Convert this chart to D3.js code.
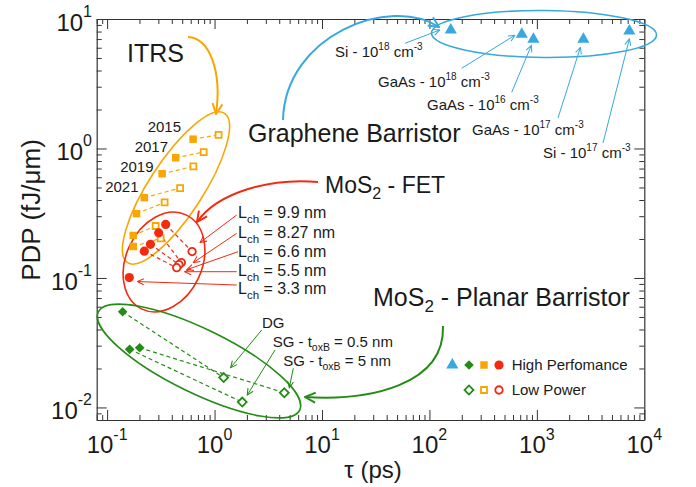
<!DOCTYPE html>
<html><head><meta charset="utf-8">
<script src="https://cdn.jsdelivr.net/npm/d3@7"></script>
<style>body{margin:0;background:#fff}svg{display:block}text{font-family:"Liberation Sans",Arial,sans-serif;fill:#1a1a1a}</style>
</head><body><svg id="c" width="696" height="487"></svg>
<script>
// ---------- data ----------
const xDomain = [0.08, 1e4];
const yDomain = [0.008, 10];
const xMajor = [0.1, 1, 10, 100, 1000, 10000];
const xMajorExp = ["-1", "0", "1", "2", "3", "4"];
const yMajor = [0.01, 0.1, 1, 10];
const yMajorExp = ["-2", "-1", "0", "1"];

// ITRS (orange squares): high performance vs low power
const itrsYears = ["2015", "2017", "2019", "2021"];
const itrsHP = [[0.631,1.18],[0.435,0.848],[0.325,0.638],[0.222,0.417],[0.188,0.314],[0.175,0.213],[0.175,0.175]];
const itrsLP = [[1.09,1.275],[0.792,0.938],[0.635,0.727],[0.478,0.495],[0.343,0.383],[0.283,0.252],[0.315,0.202]];

// MoS2 FET (red circles)
const fetLch = ["9.9", "8.27", "6.6", "5.5", "3.3"];
const fetHP = [[0.351,0.259],[0.302,0.223],[0.253,0.182],[0.222,0.161],[0.161,0.1007]];
const fetLP = [[0.618,0.160],[0.491,0.1315],[0.466,0.1268],[0.444,0.120]];

// MoS2 planar barristor (green diamonds)
const pbNames = ["DG", "SG 0.5", "SG 5"];
const pbHP = [[0.1395,0.0548],[0.162,0.0281],[0.201,0.0289]];
const pbLP = [[1.215,0.0170],[1.81,0.0110],[4.46,0.0130]];

// Graphene barristor (blue triangles)
const gbNames = [["Si","18"],["GaAs","18"],["GaAs","16"],["GaAs","17"],["Si","17"]];
const gbX = [158, 724, 929, 2710, 7260];
const gbY = [8.23, 7.62, 6.97, 6.97, 8.08];

// ---------- colours ----------
const cOrange = "#f9a602", cRed = "#f32a10", cGreen = "#228c14", cBlue = "#37a9df";

const svg = d3.select("#c");
const L = 96.7, R = 644.3, T = 19, B = 420;
const x = d3.scaleLog().domain(xDomain).range([L, R]);
const y = d3.scaleLog().domain(yDomain).range([B, T]);

// arrow markers
const defs = svg.append("defs");
function marker(id, color, size, sw) {
  defs.append("marker").attr("id", id).attr("viewBox", "0 0 10 10")
    .attr("refX", 9).attr("refY", 5).attr("markerWidth", size).attr("markerHeight", size)
    .attr("markerUnits", "userSpaceOnUse").attr("orient", "auto")
    .append("path").attr("d", "M1,1.2 L9,5 L1,8.8").attr("fill", "none")
    .attr("stroke", color).attr("stroke-width", sw).attr("stroke-linejoin", "miter");
}
[["o",cOrange],["r",cRed],["g",cGreen],["b",cBlue]].forEach(([k,c]) => {
  marker("s"+k, c, 8, 1.3);
  marker("b"+k, c, 13, 1.5);
});

// ---------- axes ----------
function minors(lo, hi) {
  const out = [];
  for (let e = -3; e <= 4; e++) for (let k = 2; k <= 9; k++) {
    const v = k * Math.pow(10, e);
    if (v >= lo * 0.999 && v <= hi * 1.001) out.push(v);
  }
  return out;
}
const xMinor = minors(xDomain[0], xDomain[1]);
const yMinor = minors(yDomain[0], yDomain[1]);

function styleAxis(g, showDomain) {
  g.selectAll("line").attr("stroke", "#333").attr("stroke-width", 1);
  g.select(".domain").attr("stroke", showDomain ? "#333" : "none").attr("stroke-width", 1.2);
  g.selectAll("text").remove();
}
const axes = [
  [d3.axisBottom(x), `translate(0,${B})`, xMajor, xMinor],
  [d3.axisTop(x), `translate(0,${T})`, xMajor, xMinor],
  [d3.axisLeft(y), `translate(${L},0)`, yMajor, yMinor],
  [d3.axisRight(y), `translate(${R},0)`, yMajor, yMinor]
];
axes.forEach(([ax, tr, maj, min]) => {
  svg.append("g").attr("transform", tr)
    .call(ax.tickValues(min).tickSize(-5).tickSizeOuter(0).tickFormat(""))
    .call(g => styleAxis(g, false));
  svg.append("g").attr("transform", tr)
    .call(ax.tickValues(maj).tickSize(-10).tickSizeOuter(0).tickFormat(""))
    .call(g => styleAxis(g, true));
});

// tick labels with superscripts
xMajor.forEach((v, i) => {
  const t = svg.append("text").attr("x", x(v)).attr("y", B + 33)
    .attr("text-anchor", "middle").style("font-size", "24px");
  t.append("tspan").text("10");
  t.append("tspan").attr("dy", -13).style("font-size", "16px").text(xMajorExp[i]);
});
yMajor.forEach((v, i) => {
  const t = svg.append("text").attr("x", 92).attr("y", y(v) + 12)
    .attr("text-anchor", "end").style("font-size", "24px");
  t.append("tspan").text("10");
  t.append("tspan").attr("dy", -14).style("font-size", "16px").text(yMajorExp[i]);
});

// axis titles
svg.append("text").attr("x", 373).attr("y", 478).attr("text-anchor", "middle")
  .style("font-size", "24px").text("τ (ps)");
svg.append("text").attr("transform", "translate(40,210) rotate(-90)").attr("text-anchor", "middle")
  .style("font-size", "26px").text("PDP (fJ/μm)");

// ---------- ellipses ----------
function ell(cx, cy, rx, ry, ang, col) {
  svg.append("ellipse").attr("cx", 0).attr("cy", 0).attr("rx", rx).attr("ry", ry)
    .attr("transform", `translate(${cx},${cy}) rotate(${ang})`)
    .attr("fill", "none").attr("stroke", col).attr("stroke-width", 1.6);
}
ell(176, 188, 89, 27, -57, cOrange);
ell(164, 262, 52, 38, -65, cRed);
ell(199, 361, 112, 32, 26, cGreen);
ell(544, 34, 112.5, 23.5, 0.5, cBlue);

// ---------- dashed connectors ----------
function dashes(hp, lp, col) {
  svg.append("g").selectAll("line").data(d3.zip(hp, lp)).join("line")
    .attr("x1", d => x(d[0][0])).attr("y1", d => y(d[0][1]))
    .attr("x2", d => x(d[1][0])).attr("y2", d => y(d[1][1]))
    .attr("stroke", col).attr("stroke-width", 1.2).attr("stroke-dasharray", "4,3");
}
dashes(itrsHP, itrsLP, cOrange);
dashes(fetHP.slice(0, fetLP.length), fetLP, cRed);
dashes(pbHP, pbLP, cGreen);

// ---------- markers ----------
const sym = (type, size) => d3.symbol().type(type).size(size)();
function pts(data, type, size, col, filled, rot) {
  svg.append("g").selectAll("path").data(data).join("path")
    .attr("d", sym(type, size))
    .attr("transform", d => `translate(${x(d[0])},${y(d[1])}) rotate(${rot || 0})`)
    .attr("fill", filled ? col : "#fff").attr("stroke", col)
    .attr("stroke-width", filled ? 0 : 1.8);
}
pts(itrsLP, d3.symbolSquare, 36, cOrange, false);
pts(itrsHP, d3.symbolSquare, 56, cOrange, true);
pts(fetLP, d3.symbolCircle, 44, cRed, false);
pts(fetHP, d3.symbolCircle, 66, cRed, true);
pts(pbLP, d3.symbolSquare, 40, cGreen, false, 45);
pts(pbHP, d3.symbolSquare, 46, cGreen, true, 45);
pts(gbX.map((v, i) => [v, gbY[i]]), d3.symbolTriangle, 64, cBlue, true);

// ---------- annotation helpers ----------
function arrow(x1, y1, x2, y2, col, k) {
  svg.append("line").attr("x1", x1).attr("y1", y1).attr("x2", x2).attr("y2", y2)
    .attr("stroke", col).attr("stroke-width", 1).attr("marker-end", `url(#s${k})`);
}
function bigArrow(d, col, k) {
  svg.append("path").attr("d", d).attr("fill", "none").attr("stroke", col)
    .attr("stroke-width", 2).attr("marker-end", `url(#b${k})`);
}

// ITRS
svg.append("text").attr("x", 127).attr("y", 62).style("font-size", "25px").text("ITRS");
bigArrow("M188,37 C210,38 222,72 216,114", cOrange, "o");
const yearPos = [[181,131.5],[168,151.7],[153.5,171.7],[138.5,192.3]];
itrsYears.forEach((yr, i) => svg.append("text").attr("x", yearPos[i][0]).attr("y", yearPos[i][1])
  .attr("text-anchor", "end").style("font-size", "15px").text(yr));

// MoS2 FET
const fetT = svg.append("text").attr("x", 325).attr("y", 193).style("font-size", "23px");
fetT.append("tspan").text("MoS");
fetT.append("tspan").attr("dy", 6).style("font-size", "16px").text("2");
fetT.append("tspan").attr("dy", -6).text(" - FET");
bigArrow("M318,182 C270,178 218,192 197,222", cRed, "r");

const lchBase = [218, 237.5, 257, 276, 294];
const lchStart = [[236.7,215],[236.7,233.3],[238,251.7],[236.7,271.7],[236.7,285]];
const lchTargets = fetLP.concat([fetHP[4]]);
const lchOff = [[8,-9],[12,0],[8,5],[8,4],[8,4]];
fetLch.forEach((v, i) => {
  const t = svg.append("text").attr("x", 238).attr("y", lchBase[i]).style("font-size", "16px");
  t.append("tspan").text("L");
  t.append("tspan").attr("dy", 5).style("font-size", "11.5px").text("ch");
  t.append("tspan").attr("dy", -5).text(" = " + v + " nm");
  const p = lchTargets[i];
  arrow(lchStart[i][0], lchStart[i][1], x(p[0]) + lchOff[i][0], y(p[1]) + lchOff[i][1], cRed, "r");
});

// Planar barristor
const pbT = svg.append("text").attr("x", 373).attr("y", 306).style("font-size", "25px");
pbT.append("tspan").text("MoS");
pbT.append("tspan").attr("dy", 6).style("font-size", "17px").text("2");
pbT.append("tspan").attr("dy", -6).text(" - Planar Barristor");
bigArrow("M443,326 C445,385 370,401 305,397", cGreen, "g");

svg.append("text").attr("x", 262).attr("y", 328.3).style("font-size", "15px").text("DG");
function sgLabel(xp, yp, v) {
  const t = svg.append("text").attr("x", xp).attr("y", yp).style("font-size", "15px");
  t.append("tspan").text("SG - t");
  t.append("tspan").attr("dy", 4).style("font-size", "10.5px").text("oxB");
  t.append("tspan").attr("dy", -4).text(" = " + v + " nm");
}
sgLabel(272.7, 346.7, "0.5");
sgLabel(283.3, 365.5, "5");
const pbStart = [[261.7,330],[275,350],[293.3,368.3]];
const pbOff = [[7,-10],[5,-7],[5,-5]];
pbLP.forEach((p, i) => arrow(pbStart[i][0], pbStart[i][1], x(p[0]) + pbOff[i][0], y(p[1]) + pbOff[i][1], cGreen, "g"));

// Graphene barristor
svg.append("text").attr("x", 248).attr("y", 142).style("font-size", "25px").text("Graphene Barristor");
bigArrow("M283,120 C285,35 390,-5 439,27", cBlue, "b");
const gbLab = [[335,56.7],[378,86.7],[427,110],[472,135],[543,158.3]];
const gbStart = [[405,43.3],[461.7,68.3],[511.7,92.3],[558,118],[603,143]];
const gbOff = [[-11,0],[-7,1],[-2,6],[-3,8],[0,8]];
gbNames.forEach((n, i) => {
  const t = svg.append("text").attr("x", gbLab[i][0]).attr("y", gbLab[i][1]).style("font-size", "15px");
  t.append("tspan").text(n[0] + " - 10");
  t.append("tspan").attr("dy", -7).style("font-size", "10px").text(n[1]);
  t.append("tspan").attr("dy", 7).text(" cm");
  t.append("tspan").attr("dy", -7).style("font-size", "10px").text("-3");
  arrow(gbStart[i][0], gbStart[i][1], x(gbX[i]) + gbOff[i][0], y(gbY[i]) + gbOff[i][1], cBlue, "b");
});

// ---------- legend ----------
const lg = svg.append("g");
const legHP = [[d3.symbolTriangle, cBlue, 0], [d3.symbolSquare, cGreen, 45], [d3.symbolSquare, cOrange, 0], [d3.symbolCircle, cRed, 0]];
const legHPx = [452.3, 469, 484, 499];
const legHPsize = [64, 46, 56, 66];
legHP.forEach((s, i) => lg.append("path").attr("d", sym(s[0], legHPsize[i]))
  .attr("transform", `translate(${legHPx[i]},365) rotate(${s[2]})`).attr("fill", s[1]));
const legLP = [[d3.symbolSquare, cGreen, 45, 40], [d3.symbolSquare, cOrange, 0, 36], [d3.symbolCircle, cRed, 0, 44]];
legLP.forEach((s, i) => lg.append("path").attr("d", sym(s[0], s[3]))
  .attr("transform", `translate(${legHPx[i+1]},390) rotate(${s[2]})`)
  .attr("fill", "#fff").attr("stroke", s[1]).attr("stroke-width", 1.8));
lg.append("text").attr("x", 511.7).attr("y", 370).style("font-size", "15px").text("High Perfomance");
lg.append("text").attr("x", 511.7).attr("y", 395).style("font-size", "15px").text("Low Power");
</script></body></html>
